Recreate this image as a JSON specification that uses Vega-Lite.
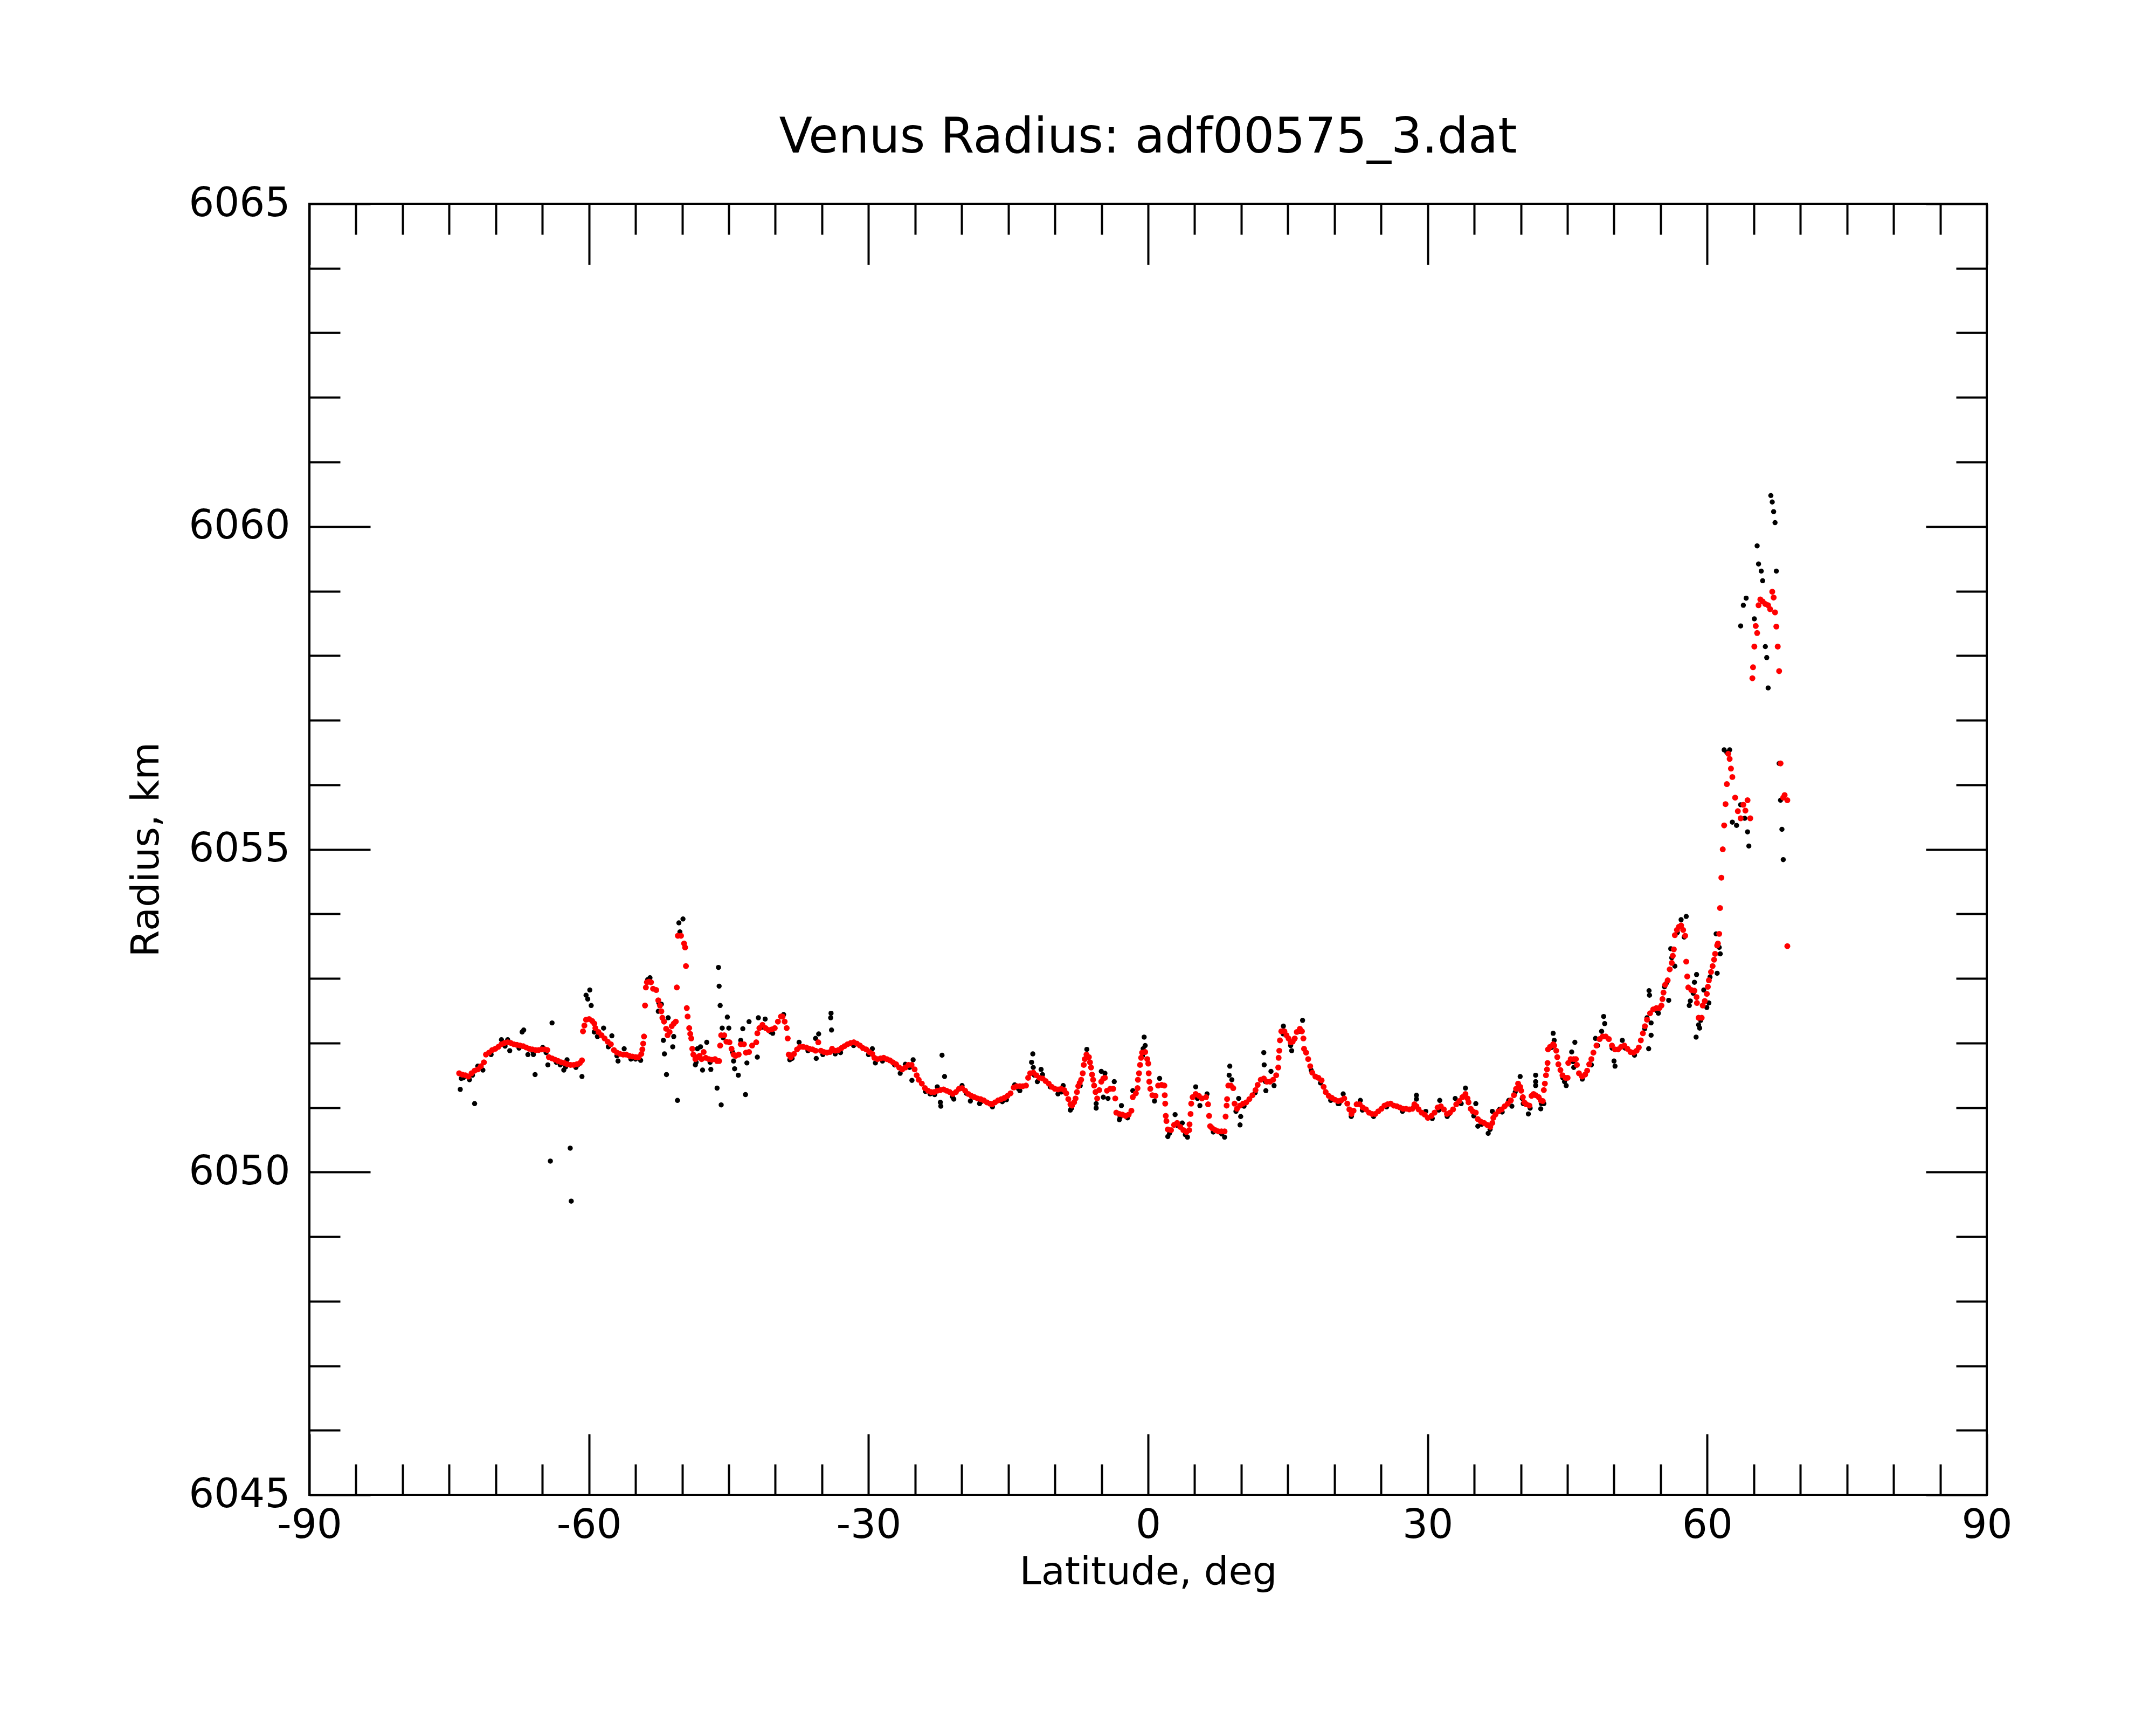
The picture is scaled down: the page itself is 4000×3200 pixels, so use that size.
{
  "$schema": "https://vega.github.io/schema/vega-lite/v6.json",
  "width": 3112,
  "height": 2395,
  "autosize": {"type": "none"},
  "padding": {"left": 574, "top": 378, "right": 314, "bottom": 427},
  "background": "white",
  "title": {
    "text": "Venus Radius: adf00575_3.dat",
    "font": "DejaVu Sans",
    "fontSize": 90,
    "fontWeight": "normal",
    "color": "black",
    "anchor": "middle",
    "frame": "group",
    "baseline": "alphabetic",
    "offset": -32
  },
  "config": {
    "font": "DejaVu Sans",
    "view": {"stroke": "black", "strokeWidth": 4},
    "axis": {
      "domain": false,
      "grid": false,
      "tickColor": "black",
      "tickWidth": 4,
      "labelColor": "black",
      "labelFont": "DejaVu Sans",
      "labelFontSize": 74,
      "labelLimit": 0,
      "titleFont": "DejaVu Sans",
      "titleFontSize": 72,
      "titleFontWeight": "normal",
      "titleColor": "black",
      "labelOverlap": false,
      "labelFlush": false,
      "labelBound": false
    }
  },
  "datasets": {
    "raw": [
      {"lat":-73.81,"r":6051.28},{"lat":-72.27,"r":6051.06},{"lat":-72.82,"r":6051.43},{"lat":-73.48,"r":6051.46},
      {"lat":-71.93,"r":6051.64},{"lat":-71.38,"r":6051.58},{"lat":-69.39,"r":6052.05},{"lat":-68.72,"r":6052.05},
      {"lat":-68.50,"r":6051.88},{"lat":-67.00,"r":6052.20},{"lat":-67.17,"r":6052.17},{"lat":-66.55,"r":6051.82},
      {"lat":-65.96,"r":6051.82},{"lat":-65.78,"r":6051.51},{"lat":-64.96,"r":6051.93},{"lat":-64.41,"r":6051.66},
      {"lat":-63.96,"r":6052.31},{"lat":-64.14,"r":6050.17},{"lat":-62.01,"r":6050.37},{"lat":-61.90,"r":6049.55},
      {"lat":-63.08,"r":6051.66},{"lat":-62.70,"r":6051.58},{"lat":-60.75,"r":6051.48},{"lat":-62.35,"r":6051.74},
      {"lat":-61.60,"r":6051.66},{"lat":-61.20,"r":6051.66},{"lat":-60.31,"r":6052.74},{"lat":-60.13,"r":6052.68},
      {"lat":-59.91,"r":6052.82},{"lat":-59.76,"r":6052.58},{"lat":-59.43,"r":6052.17},{"lat":-59.09,"r":6052.10},
      {"lat":-58.43,"r":6052.23},{"lat":-57.92,"r":6051.94},{"lat":-57.54,"r":6052.11},{"lat":-56.88,"r":6051.72},
      {"lat":-56.22,"r":6051.91},{"lat":-55.00,"r":6051.75},{"lat":-54.45,"r":6051.73},{"lat":-53.45,"r":6053.01},
      {"lat":-52.56,"r":6052.49},{"lat":-52.23,"r":6052.60},{"lat":-52.01,"r":6052.04},{"lat":-51.90,"r":6051.83},
      {"lat":-51.68,"r":6051.51},{"lat":-51.50,"r":6052.39},{"lat":-51.01,"r":6051.94},{"lat":-50.90,"r":6052.10},
      {"lat":-50.50,"r":6051.11},{"lat":-50.35,"r":6053.86},{"lat":-49.91,"r":6053.92},{"lat":-50.24,"r":6053.72},
      {"lat":-48.58,"r":6051.66},{"lat":-48.36,"r":6051.91},{"lat":-48.03,"r":6051.94},{"lat":-47.81,"r":6051.58},
      {"lat":-47.36,"r":6052.01},{"lat":-46.92,"r":6051.59},{"lat":-46.25,"r":6051.30},{"lat":-46.10,"r":6053.17},
      {"lat":-46.03,"r":6052.88},{"lat":-45.92,"r":6052.58},{"lat":-45.81,"r":6051.04},{"lat":-45.70,"r":6052.23},
      {"lat":-45.15,"r":6052.40},{"lat":-44.99,"r":6052.23},{"lat":-44.37,"r":6051.60},{"lat":-43.97,"r":6051.50},
      {"lat":-43.71,"r":6052.04},{"lat":-43.49,"r":6052.22},{"lat":-43.20,"r":6051.20},{"lat":-43.05,"r":6051.69},
      {"lat":-42.82,"r":6052.33},{"lat":-41.93,"r":6051.78},{"lat":-41.82,"r":6052.39},{"lat":-41.09,"r":6052.37},
      {"lat":-40.28,"r":6052.15},{"lat":-44.48,"r":6051.72},
      {"lat":-39.11,"r":6052.44},{"lat":-38.45,"r":6051.74},{"lat":-37.45,"r":6052.01},{"lat":-35.61,"r":6051.76},
      {"lat":-35.35,"r":6052.14},{"lat":-35.68,"r":6052.07},{"lat":-34.02,"r":6052.46},{"lat":-34.06,"r":6052.39},
      {"lat":-33.97,"r":6052.20},{"lat":-33.57,"r":6051.83},{"lat":-29.59,"r":6051.91},{"lat":-29.26,"r":6051.69},
      {"lat":-26.60,"r":6051.53},{"lat":-26.05,"r":6051.67},{"lat":-25.21,"r":6051.74},{"lat":-25.34,"r":6051.42},
      {"lat":-23.39,"r":6051.21},{"lat":-22.62,"r":6051.32},{"lat":-22.29,"r":6051.08},{"lat":-22.24,"r":6051.02},
      {"lat":-22.11,"r":6051.81},{"lat":-21.84,"r":6051.48},{"lat":-20.85,"r":6051.13},{"lat":-19.96,"r":6051.34},
      {"lat":-19.07,"r":6051.10},{"lat":-18.08,"r":6051.06},{"lat":-15.64,"r":6051.09},{"lat":-14.31,"r":6051.35},
      {"lat":-13.76,"r":6051.26},{"lat":-12.37,"r":6051.83},{"lat":-12.50,"r":6051.70},{"lat":-12.32,"r":6051.62},
      {"lat":-11.48,"r":6051.59},{"lat":-11.33,"r":6051.51},{"lat":-11.88,"r":6051.40},{"lat":-9.67,"r":6051.21},
      {"lat":-9.11,"r":6051.34},{"lat":-8.34,"r":6050.96},{"lat":-7.28,"r":6051.34},{"lat":-6.57,"r":6051.90},
      {"lat":-5.57,"r":6050.99},{"lat":-5.57,"r":6051.06},{"lat":-5.02,"r":6051.56},{"lat":-4.80,"r":6051.16},
      {"lat":-4.63,"r":6051.53},{"lat":-3.63,"r":6051.40},{"lat":-4.30,"r":6051.14},{"lat":-3.08,"r":6050.81},
      {"lat":-2.86,"r":6051.03},{"lat":-1.64,"r":6051.26},{"lat":-0.42,"r":6052.09},{"lat":-0.31,"r":6051.96},
      {"lat":-0.53,"r":6051.91},{"lat":0.69,"r":6051.10},{"lat":1.24,"r":6051.45},{"lat":2.12,"r":6050.55},
      {"lat":2.90,"r":6050.89},{"lat":3.67,"r":6050.76},{"lat":4.23,"r":6050.54},{"lat":5.11,"r":6051.32},
      {"lat":6.33,"r":6051.21},{"lat":5.56,"r":6051.03},{"lat":8.21,"r":6050.54},{"lat":8.77,"r":6051.64},
      {"lat":8.70,"r":6051.50},{"lat":8.99,"r":6051.43},{"lat":9.72,"r":6051.14},{"lat":9.94,"r":6050.86},
      {"lat":9.87,"r":6050.73},{"lat":9.43,"r":6050.94},{"lat":12.42,"r":6051.85},{"lat":12.46,"r":6051.66},
      {"lat":12.64,"r":6051.26},{"lat":13.19,"r":6051.56},{"lat":13.52,"r":6051.34},{"lat":14.52,"r":6052.26},
      {"lat":15.41,"r":6051.88},{"lat":16.58,"r":6052.35},{"lat":20.94,"r":6051.21},{"lat":21.83,"r":6050.87},
      {"lat":22.78,"r":6051.11},{"lat":20.39,"r":6051.06},{"lat":28.80,"r":6051.19},{"lat":28.80,"r":6051.13},
      {"lat":29.80,"r":6050.94},
      {"lat":31.30,"r":6051.11},{"lat":32.29,"r":6050.90},{"lat":32.96,"r":6051.14},{"lat":33.40,"r":6051.08},
      {"lat":34.06,"r":6051.30},{"lat":34.95,"r":6050.87},{"lat":35.17,"r":6051.06},{"lat":35.39,"r":6050.71},
      {"lat":36.50,"r":6050.60},{"lat":36.94,"r":6050.94},{"lat":37.71,"r":6050.97},{"lat":38.71,"r":6051.11},
      {"lat":39.04,"r":6051.02},{"lat":39.93,"r":6051.48},{"lat":40.15,"r":6051.14},{"lat":40.26,"r":6051.06},
      {"lat":40.81,"r":6050.90},{"lat":41.59,"r":6051.50},{"lat":41.59,"r":6051.40},{"lat":41.59,"r":6051.34},
      {"lat":42.14,"r":6050.98},{"lat":42.47,"r":6051.06},{"lat":43.47,"r":6052.15},{"lat":43.58,"r":6052.04},
      {"lat":44.69,"r":6051.40},{"lat":44.87,"r":6051.34},{"lat":45.46,"r":6051.86},{"lat":45.68,"r":6051.62},
      {"lat":45.80,"r":6052.01},{"lat":47.57,"r":6051.66},{"lat":48.01,"r":6052.07},{"lat":48.23,"r":6051.96},
      {"lat":48.67,"r":6052.18},{"lat":48.89,"r":6052.41},{"lat":49.00,"r":6052.30},{"lat":50.00,"r":6051.72},
      {"lat":50.11,"r":6051.64},{"lat":50.89,"r":6052.04},{"lat":53.54,"r":6052.39},{"lat":53.76,"r":6052.81},
      {"lat":53.81,"r":6052.74},{"lat":53.72,"r":6051.91},{"lat":53.98,"r":6052.12},{"lat":53.98,"r":6052.31},
      {"lat":54.76,"r":6052.46},{"lat":55.42,"r":6052.87},{"lat":55.87,"r":6052.66},{"lat":56.09,"r":6053.46},
      {"lat":56.20,"r":6053.32},{"lat":56.53,"r":6053.19},{"lat":57.20,"r":6053.91},{"lat":57.53,"r":6053.64},
      {"lat":57.75,"r":6053.96},{"lat":58.19,"r":6052.65},{"lat":58.08,"r":6052.58},{"lat":58.63,"r":6052.94},
      {"lat":58.86,"r":6053.06},{"lat":59.08,"r":6052.28},{"lat":59.19,"r":6052.23},{"lat":58.81,"r":6052.09},
      {"lat":59.63,"r":6052.82},{"lat":59.96,"r":6052.55},{"lat":60.18,"r":6052.62},{"lat":60.96,"r":6053.69},
      {"lat":61.07,"r":6053.08},{"lat":61.29,"r":6053.48},{"lat":61.40,"r":6053.38},
      {"lat":61.82,"r":6056.54},{"lat":62.11,"r":6056.50},{"lat":62.41,"r":6056.54},{"lat":62.70,"r":6055.42},
      {"lat":63.15,"r":6055.37},{"lat":63.29,"r":6055.59},{"lat":63.59,"r":6055.69},{"lat":64.03,"r":6055.48},
      {"lat":64.33,"r":6055.27},{"lat":64.47,"r":6055.05},{"lat":63.59,"r":6058.46},{"lat":63.88,"r":6058.78},
      {"lat":64.18,"r":6058.89},{"lat":65.06,"r":6058.57},{"lat":65.36,"r":6059.70},{"lat":65.51,"r":6059.42},
      {"lat":65.80,"r":6059.31},{"lat":65.95,"r":6059.16},{"lat":66.24,"r":6058.14},{"lat":66.39,"r":6057.97},
      {"lat":66.54,"r":6057.50},{"lat":66.83,"r":6060.48},{"lat":66.98,"r":6060.38},{"lat":67.13,"r":6060.23},
      {"lat":67.28,"r":6060.06},{"lat":67.42,"r":6059.31},{"lat":67.72,"r":6056.33},{"lat":68.02,"r":6055.31},
      {"lat":68.16,"r":6054.84},{"lat":67.87,"r":6055.76},
      {"lat":-73.7,"r":6051.45},{"lat":-72.5,"r":6051.50},{"lat":-70.5,"r":6051.82},{"lat":-69.0,"r":6051.95},
      {"lat":-67.5,"r":6051.92},{"lat":-66.0,"r":6051.86},{"lat":-64.6,"r":6051.85},{"lat":-63.5,"r":6051.70},
      {"lat":-62.5,"r":6051.63},{"lat":-61.4,"r":6051.62},{"lat":-58.8,"r":6052.12},{"lat":-57.0,"r":6051.80},
      {"lat":-55.5,"r":6051.75},{"lat":-53.7,"r":6052.98},{"lat":-52.5,"r":6052.62},{"lat":-48.5,"r":6051.70},
      {"lat":-47.0,"r":6051.70},{"lat":-45.6,"r":6052.08},{"lat":-44.6,"r":6051.86},{"lat":-41.5,"r":6052.24},
      {"lat":-40.5,"r":6052.17},{"lat":-38.2,"r":6051.76},{"lat":-36.5,"r":6051.88},{"lat":-34.9,"r":6051.82},
      {"lat":-33.0,"r":6051.85},{"lat":-31.6,"r":6051.96},{"lat":-30.0,"r":6051.82},{"lat":-28.5,"r":6051.72},
      {"lat":-27.2,"r":6051.66},{"lat":-25.6,"r":6051.62},{"lat":-23.9,"r":6051.25},{"lat":-22.9,"r":6051.20},
      {"lat":-21.0,"r":6051.17},{"lat":-19.5,"r":6051.22},{"lat":-17.9,"r":6051.09},{"lat":-16.7,"r":6051.01},
      {"lat":-15.2,"r":6051.12},{"lat":-13.9,"r":6051.29},{"lat":-12.2,"r":6051.50},{"lat":-10.5,"r":6051.32},
      {"lat":-9.3,"r":6051.24},{"lat":-8.2,"r":6050.99},{"lat":-6.6,"r":6051.78},{"lat":-3.0,"r":6050.85},
      {"lat":-2.2,"r":6050.84},{"lat":-0.6,"r":6051.80},{"lat":2.3,"r":6050.60},{"lat":3.2,"r":6050.72},
      {"lat":4.0,"r":6050.58},{"lat":5.3,"r":6051.14},{"lat":7.0,"r":6050.62},{"lat":7.9,"r":6050.59},
      {"lat":10.3,"r":6051.02},{"lat":11.5,"r":6051.23},{"lat":12.6,"r":6051.40},{"lat":14.5,"r":6052.14},
      {"lat":15.3,"r":6051.96},{"lat":16.3,"r":6052.18},{"lat":17.5,"r":6051.58},{"lat":18.5,"r":6051.38},
      {"lat":19.6,"r":6051.11},{"lat":20.5,"r":6051.06},{"lat":21.8,"r":6050.86},{"lat":23.0,"r":6050.96},
      {"lat":24.2,"r":6050.86},{"lat":25.6,"r":6051.01},{"lat":27.3,"r":6050.94},{"lat":28.5,"r":6051.01},
      {"lat":30.5,"r":6050.83},{"lat":31.2,"r":6050.96},{"lat":32.1,"r":6050.86},{"lat":33.6,"r":6051.06},
      {"lat":35.8,"r":6050.74},{"lat":36.7,"r":6050.66},{"lat":38.0,"r":6050.93},{"lat":39.4,"r":6051.24},
      {"lat":41.0,"r":6050.99},{"lat":42.2,"r":6051.06},{"lat":43.3,"r":6051.93},{"lat":44.5,"r":6051.46},
      {"lat":45.6,"r":6051.71},{"lat":46.6,"r":6051.44},{"lat":48.5,"r":6052.06},{"lat":49.8,"r":6051.92},
      {"lat":51.2,"r":6051.92},{"lat":52.2,"r":6051.81},{"lat":53.3,"r":6052.22},{"lat":54.6,"r":6052.50},
      {"lat":55.6,"r":6052.92},{"lat":56.8,"r":6053.71},{"lat":58.5,"r":6052.77},{"lat":59.3,"r":6052.35},
      {"lat":60.3,"r":6053.02}
    ],
    "smooth": [
      {"lat":-73.93,"r":6051.53},{"lat":-73.59,"r":6051.51},{"lat":-73.26,"r":6051.50},{"lat":-72.93,"r":6051.48},
      {"lat":-72.60,"r":6051.53},{"lat":-72.27,"r":6051.57},{"lat":-71.93,"r":6051.59},{"lat":-71.60,"r":6051.64},
      {"lat":-71.27,"r":6051.70},{"lat":-71.05,"r":6051.82},{"lat":-70.72,"r":6051.85},{"lat":-70.38,"r":6051.89},
      {"lat":-70.05,"r":6051.91},{"lat":-69.72,"r":6051.94},{"lat":-69.39,"r":6051.98},{"lat":-69.06,"r":6052.00},
      {"lat":-68.72,"r":6052.01},{"lat":-68.39,"r":6052.00},{"lat":-68.06,"r":6051.98},{"lat":-67.73,"r":6051.97},
      {"lat":-67.39,"r":6051.96},{"lat":-67.06,"r":6051.95},{"lat":-66.73,"r":6051.93},{"lat":-66.40,"r":6051.91},
      {"lat":-66.07,"r":6051.90},{"lat":-65.73,"r":6051.89},{"lat":-65.40,"r":6051.89},{"lat":-65.07,"r":6051.90},
      {"lat":-64.74,"r":6051.90},{"lat":-64.47,"r":6051.89},{"lat":-64.30,"r":6051.78},{"lat":-63.96,"r":6051.76},
      {"lat":-63.63,"r":6051.74},{"lat":-63.30,"r":6051.72},{"lat":-62.97,"r":6051.70},{"lat":-62.64,"r":6051.69},
      {"lat":-62.30,"r":6051.67},{"lat":-61.97,"r":6051.66},{"lat":-61.64,"r":6051.66},{"lat":-61.31,"r":6051.67},
      {"lat":-60.97,"r":6051.69},{"lat":-60.75,"r":6051.73},{"lat":-60.64,"r":6052.18},{"lat":-60.49,"r":6052.27},
      {"lat":-60.31,"r":6052.36},{"lat":-59.98,"r":6052.37},{"lat":-59.65,"r":6052.34},{"lat":-59.42,"r":6052.30},
      {"lat":-59.31,"r":6052.23},{"lat":-58.98,"r":6052.17},{"lat":-58.65,"r":6052.12},{"lat":-58.32,"r":6052.07},
      {"lat":-57.99,"r":6052.02},{"lat":-57.65,"r":6051.98},{"lat":-57.32,"r":6051.89},{"lat":-56.99,"r":6051.85},
      {"lat":-56.66,"r":6051.83},{"lat":-56.32,"r":6051.82},{"lat":-55.99,"r":6051.82},{"lat":-55.66,"r":6051.80},
      {"lat":-55.33,"r":6051.79},{"lat":-54.99,"r":6051.78},{"lat":-54.66,"r":6051.78},{"lat":-54.38,"r":6051.83},
      {"lat":-54.27,"r":6051.90},{"lat":-54.18,"r":6051.99},{"lat":-54.09,"r":6052.10},{"lat":-53.98,"r":6052.58},
      {"lat":-53.89,"r":6052.86},{"lat":-53.78,"r":6052.94},{"lat":-53.56,"r":6052.95},{"lat":-53.34,"r":6052.94},
      {"lat":-53.12,"r":6052.84},{"lat":-52.78,"r":6052.82},{"lat":-52.56,"r":6052.66},{"lat":-52.38,"r":6052.58},
      {"lat":-52.23,"r":6052.49},{"lat":-52.12,"r":6052.39},{"lat":-51.94,"r":6052.33},{"lat":-51.72,"r":6052.22},
      {"lat":-51.56,"r":6052.12},{"lat":-51.34,"r":6052.17},{"lat":-51.12,"r":6052.26},{"lat":-50.90,"r":6052.30},
      {"lat":-50.68,"r":6052.33},{"lat":-50.57,"r":6052.86},{"lat":-50.46,"r":6053.66},{"lat":-50.12,"r":6053.66},
      {"lat":-49.79,"r":6053.54},{"lat":-49.68,"r":6053.48},{"lat":-49.59,"r":6053.19},{"lat":-49.50,"r":6052.54},
      {"lat":-49.41,"r":6052.41},{"lat":-49.24,"r":6052.23},{"lat":-49.13,"r":6052.14},{"lat":-49.02,"r":6052.07},
      {"lat":-48.91,"r":6051.91},{"lat":-48.80,"r":6051.82},{"lat":-48.58,"r":6051.75},{"lat":-48.35,"r":6051.78},
      {"lat":-48.13,"r":6051.80},{"lat":-47.91,"r":6051.75},{"lat":-47.69,"r":6051.86},{"lat":-47.47,"r":6051.77},
      {"lat":-47.14,"r":6051.75},{"lat":-46.81,"r":6051.74},{"lat":-46.47,"r":6051.75},{"lat":-46.25,"r":6051.72},
      {"lat":-46.03,"r":6051.72},{"lat":-45.92,"r":6051.96},{"lat":-45.81,"r":6052.12},{"lat":-45.48,"r":6052.12},
      {"lat":-45.25,"r":6052.02},{"lat":-44.92,"r":6052.01},{"lat":-44.70,"r":6051.91},{"lat":-44.48,"r":6051.82},
      {"lat":-44.26,"r":6051.80},{"lat":-43.93,"r":6051.82},{"lat":-43.71,"r":6051.98},{"lat":-43.37,"r":6051.98},
      {"lat":-43.15,"r":6051.85},{"lat":-42.82,"r":6051.86},{"lat":-42.49,"r":6051.96},{"lat":-42.05,"r":6052.01},
      {"lat":-41.93,"r":6052.15},{"lat":-41.71,"r":6052.23},{"lat":-41.38,"r":6052.28},{"lat":-41.05,"r":6052.23},
      {"lat":-40.72,"r":6052.20},{"lat":-40.39,"r":6052.21},{"lat":-40.06,"r":6052.23},{"lat":-39.72,"r":6052.33},
      {"lat":-39.39,"r":6052.41},
      {"lat":-39.22,"r":6052.41},{"lat":-39.00,"r":6052.33},{"lat":-38.78,"r":6052.23},{"lat":-38.67,"r":6052.07},
      {"lat":-38.56,"r":6051.82},{"lat":-38.34,"r":6051.78},{"lat":-38.00,"r":6051.83},{"lat":-37.67,"r":6051.90},
      {"lat":-37.34,"r":6051.94},{"lat":-37.01,"r":6051.94},{"lat":-36.67,"r":6051.93},{"lat":-36.34,"r":6051.91},
      {"lat":-36.01,"r":6051.90},{"lat":-35.68,"r":6051.88},{"lat":-35.39,"r":6052.01},{"lat":-35.12,"r":6051.88},
      {"lat":-34.79,"r":6051.86},{"lat":-34.46,"r":6051.85},{"lat":-34.13,"r":6051.86},{"lat":-33.91,"r":6051.91},
      {"lat":-33.57,"r":6051.88},{"lat":-33.24,"r":6051.89},{"lat":-32.91,"r":6051.92},{"lat":-32.58,"r":6051.95},
      {"lat":-32.25,"r":6051.98},{"lat":-31.91,"r":6052.00},{"lat":-31.58,"r":6052.01},{"lat":-31.25,"r":6051.99},
      {"lat":-30.92,"r":6051.96},{"lat":-30.59,"r":6051.92},{"lat":-30.25,"r":6051.90},{"lat":-29.92,"r":6051.86},
      {"lat":-29.59,"r":6051.83},{"lat":-29.37,"r":6051.77},{"lat":-29.04,"r":6051.75},{"lat":-28.71,"r":6051.76},
      {"lat":-28.37,"r":6051.77},{"lat":-28.04,"r":6051.75},{"lat":-27.71,"r":6051.73},{"lat":-27.38,"r":6051.70},
      {"lat":-27.04,"r":6051.67},{"lat":-26.71,"r":6051.62},{"lat":-26.38,"r":6051.59},{"lat":-26.05,"r":6051.62},
      {"lat":-25.71,"r":6051.66},{"lat":-25.38,"r":6051.66},{"lat":-25.05,"r":6051.59},{"lat":-24.83,"r":6051.50},
      {"lat":-24.61,"r":6051.43},{"lat":-24.28,"r":6051.37},{"lat":-23.94,"r":6051.30},{"lat":-23.61,"r":6051.26},
      {"lat":-23.28,"r":6051.24},{"lat":-22.95,"r":6051.24},{"lat":-22.62,"r":6051.26},{"lat":-22.28,"r":6051.27},
      {"lat":-21.95,"r":6051.28},{"lat":-21.62,"r":6051.26},{"lat":-21.29,"r":6051.24},{"lat":-20.96,"r":6051.21},
      {"lat":-20.62,"r":6051.24},{"lat":-20.29,"r":6051.29},{"lat":-19.96,"r":6051.30},{"lat":-19.63,"r":6051.26},
      {"lat":-19.29,"r":6051.21},{"lat":-18.96,"r":6051.18},{"lat":-18.63,"r":6051.16},{"lat":-18.30,"r":6051.14},
      {"lat":-17.97,"r":6051.13},{"lat":-17.63,"r":6051.11},{"lat":-17.30,"r":6051.08},{"lat":-16.97,"r":6051.06},
      {"lat":-16.75,"r":6051.05},{"lat":-16.42,"r":6051.08},{"lat":-16.09,"r":6051.11},{"lat":-15.75,"r":6051.13},
      {"lat":-15.42,"r":6051.15},{"lat":-15.09,"r":6051.18},{"lat":-14.76,"r":6051.22},{"lat":-14.42,"r":6051.31},
      {"lat":-14.09,"r":6051.33},{"lat":-13.76,"r":6051.33},{"lat":-13.43,"r":6051.33},{"lat":-13.10,"r":6051.34},
      {"lat":-12.87,"r":6051.46},{"lat":-12.65,"r":6051.53},{"lat":-12.32,"r":6051.54},{"lat":-11.99,"r":6051.50},
      {"lat":-11.66,"r":6051.46},{"lat":-11.32,"r":6051.45},{"lat":-10.99,"r":6051.41},{"lat":-10.66,"r":6051.37},
      {"lat":-10.33,"r":6051.32},{"lat":-10.00,"r":6051.29},{"lat":-9.66,"r":6051.28},{"lat":-9.33,"r":6051.29},
      {"lat":-9.00,"r":6051.27},{"lat":-8.78,"r":6051.22},{"lat":-8.56,"r":6051.13},{"lat":-8.33,"r":6051.05},
      {"lat":-8.16,"r":6051.03},{"lat":-7.94,"r":6051.08},{"lat":-7.78,"r":6051.14},{"lat":-7.63,"r":6051.24},
      {"lat":-7.49,"r":6051.33},{"lat":-7.34,"r":6051.38},{"lat":-7.18,"r":6051.43},{"lat":-7.01,"r":6051.53},
      {"lat":-6.90,"r":6051.66},{"lat":-6.79,"r":6051.75},{"lat":-6.61,"r":6051.82},{"lat":-6.35,"r":6051.78},
      {"lat":-6.23,"r":6051.70},{"lat":-6.12,"r":6051.62},{"lat":-6.01,"r":6051.51},{"lat":-5.90,"r":6051.43},
      {"lat":-5.79,"r":6051.34},{"lat":-5.64,"r":6051.24},{"lat":-5.46,"r":6051.14},{"lat":-5.24,"r":6051.27},
      {"lat":-5.02,"r":6051.40},{"lat":-4.80,"r":6051.45},
      {"lat":-4.63,"r":6051.46},{"lat":-4.41,"r":6051.26},{"lat":-4.07,"r":6051.29},{"lat":-3.74,"r":6051.29},
      {"lat":-3.52,"r":6051.14},{"lat":-3.41,"r":6050.92},{"lat":-3.08,"r":6050.90},{"lat":-2.75,"r":6050.89},
      {"lat":-2.41,"r":6050.87},{"lat":-2.08,"r":6050.89},{"lat":-1.79,"r":6050.95},{"lat":-1.64,"r":6051.16},
      {"lat":-1.31,"r":6051.22},{"lat":-1.13,"r":6051.30},{"lat":-1.09,"r":6051.43},{"lat":-0.97,"r":6051.53},
      {"lat":-0.86,"r":6051.66},{"lat":-0.75,"r":6051.77},{"lat":-0.64,"r":6051.85},{"lat":-0.31,"r":6051.86},
      {"lat":-0.09,"r":6051.75},{"lat":0.02,"r":6051.68},{"lat":0.07,"r":6051.53},{"lat":0.13,"r":6051.40},
      {"lat":0.24,"r":6051.29},{"lat":0.46,"r":6051.19},{"lat":0.80,"r":6051.18},{"lat":1.08,"r":6051.34},
      {"lat":1.46,"r":6051.35},{"lat":1.75,"r":6051.34},{"lat":1.79,"r":6051.19},{"lat":1.84,"r":6051.06},
      {"lat":1.90,"r":6050.87},{"lat":1.97,"r":6050.79},{"lat":2.12,"r":6050.66},{"lat":2.46,"r":6050.65},
      {"lat":2.79,"r":6050.73},{"lat":3.12,"r":6050.76},{"lat":3.45,"r":6050.70},{"lat":3.79,"r":6050.65},
      {"lat":4.12,"r":6050.62},{"lat":4.41,"r":6050.65},{"lat":4.45,"r":6050.74},{"lat":4.56,"r":6050.90},
      {"lat":4.63,"r":6051.06},{"lat":4.78,"r":6051.16},{"lat":5.11,"r":6051.21},{"lat":5.45,"r":6051.18},
      {"lat":5.78,"r":6051.14},{"lat":6.22,"r":6051.16},{"lat":6.44,"r":6051.05},{"lat":6.55,"r":6050.87},
      {"lat":6.66,"r":6050.71},{"lat":6.88,"r":6050.68},{"lat":7.22,"r":6050.65},{"lat":7.55,"r":6050.63},
      {"lat":7.88,"r":6050.63},{"lat":8.21,"r":6050.63},{"lat":8.32,"r":6050.86},{"lat":8.43,"r":6051.03},
      {"lat":8.48,"r":6051.13},{"lat":8.61,"r":6051.34},{"lat":8.88,"r":6051.34},{"lat":9.14,"r":6051.30},
      {"lat":9.28,"r":6051.06},{"lat":9.54,"r":6050.98},{"lat":9.87,"r":6051.03},{"lat":10.20,"r":6051.06},
      {"lat":10.54,"r":6051.08},{"lat":10.87,"r":6051.13},{"lat":11.20,"r":6051.19},{"lat":11.53,"r":6051.27},
      {"lat":11.76,"r":6051.35},{"lat":12.09,"r":6051.43},{"lat":12.42,"r":6051.45},{"lat":12.75,"r":6051.40},
      {"lat":13.08,"r":6051.40},{"lat":13.42,"r":6051.43},{"lat":13.75,"r":6051.50},{"lat":13.97,"r":6051.62},
      {"lat":14.01,"r":6051.77},{"lat":14.08,"r":6051.88},{"lat":14.15,"r":6052.04},{"lat":14.30,"r":6052.18},
      {"lat":14.63,"r":6052.18},{"lat":14.85,"r":6052.12},{"lat":15.07,"r":6052.07},{"lat":15.30,"r":6052.01},
      {"lat":15.52,"r":6052.02},{"lat":15.74,"r":6052.07},{"lat":15.96,"r":6052.17},{"lat":16.29,"r":6052.22},
      {"lat":16.51,"r":6052.18},{"lat":16.67,"r":6052.07},{"lat":16.74,"r":6051.91},{"lat":16.96,"r":6051.85},
      {"lat":17.18,"r":6051.75},{"lat":17.40,"r":6051.64},{"lat":17.62,"r":6051.54},{"lat":17.95,"r":6051.48},
      {"lat":18.28,"r":6051.46},{"lat":18.62,"r":6051.42},{"lat":18.84,"r":6051.32},{"lat":19.06,"r":6051.24},
      {"lat":19.39,"r":6051.18},{"lat":19.72,"r":6051.15},{"lat":20.06,"r":6051.12},{"lat":20.39,"r":6051.10},
      {"lat":20.72,"r":6051.11},{"lat":21.05,"r":6051.14},{"lat":21.38,"r":6051.06},{"lat":21.60,"r":6050.97},
      {"lat":21.83,"r":6050.90},{"lat":22.05,"r":6050.95},{"lat":22.38,"r":6051.05},{"lat":22.71,"r":6051.05},
      {"lat":23.04,"r":6051.00},{"lat":23.38,"r":6050.97},{"lat":23.71,"r":6050.92},{"lat":24.04,"r":6050.90},
      {"lat":24.37,"r":6050.90},{"lat":24.70,"r":6050.94},{"lat":25.04,"r":6050.98},{"lat":25.37,"r":6051.03},
      {"lat":25.70,"r":6051.05},{"lat":26.03,"r":6051.06},{"lat":26.37,"r":6051.03},{"lat":26.70,"r":6051.02},
      {"lat":27.03,"r":6051.00},{"lat":27.36,"r":6050.98},{"lat":27.69,"r":6050.98},{"lat":28.03,"r":6050.97},
      {"lat":28.36,"r":6050.98},{"lat":28.58,"r":6051.05},{"lat":28.80,"r":6051.02},{"lat":29.03,"r":6050.97},
      {"lat":29.36,"r":6050.92},{"lat":29.69,"r":6050.89},{"lat":30.02,"r":6050.84},
      {"lat":30.41,"r":6050.87},{"lat":30.74,"r":6050.92},{"lat":31.07,"r":6051.00},{"lat":31.41,"r":6051.02},
      {"lat":31.74,"r":6050.97},{"lat":32.07,"r":6050.90},{"lat":32.40,"r":6050.92},{"lat":32.73,"r":6050.97},
      {"lat":33.07,"r":6051.05},{"lat":33.40,"r":6051.10},{"lat":33.73,"r":6051.16},{"lat":34.06,"r":6051.21},
      {"lat":34.28,"r":6051.14},{"lat":34.39,"r":6051.08},{"lat":34.62,"r":6050.98},{"lat":34.84,"r":6050.94},
      {"lat":35.17,"r":6050.92},{"lat":35.39,"r":6050.82},{"lat":35.72,"r":6050.78},{"lat":36.06,"r":6050.76},
      {"lat":36.39,"r":6050.73},{"lat":36.72,"r":6050.70},{"lat":36.94,"r":6050.76},{"lat":37.05,"r":6050.84},
      {"lat":37.27,"r":6050.89},{"lat":37.60,"r":6050.94},{"lat":37.94,"r":6050.97},{"lat":38.27,"r":6051.02},
      {"lat":38.60,"r":6051.06},{"lat":38.93,"r":6051.11},{"lat":39.26,"r":6051.19},{"lat":39.49,"r":6051.29},
      {"lat":39.71,"r":6051.37},{"lat":39.93,"r":6051.32},{"lat":40.04,"r":6051.26},{"lat":40.22,"r":6051.16},
      {"lat":40.37,"r":6051.08},{"lat":40.59,"r":6051.05},{"lat":40.92,"r":6051.03},{"lat":41.15,"r":6051.18},
      {"lat":41.37,"r":6051.21},{"lat":41.59,"r":6051.19},{"lat":41.92,"r":6051.16},{"lat":42.14,"r":6051.11},
      {"lat":42.36,"r":6051.10},{"lat":42.47,"r":6051.27},{"lat":42.58,"r":6051.37},{"lat":42.70,"r":6051.50},
      {"lat":42.81,"r":6051.59},{"lat":42.87,"r":6051.69},{"lat":42.92,"r":6051.90},{"lat":43.14,"r":6051.94},
      {"lat":43.47,"r":6051.98},{"lat":43.58,"r":6051.96},{"lat":43.80,"r":6051.88},{"lat":43.91,"r":6051.78},
      {"lat":44.03,"r":6051.67},{"lat":44.25,"r":6051.58},{"lat":44.47,"r":6051.50},{"lat":44.80,"r":6051.46},
      {"lat":45.02,"r":6051.46},{"lat":45.09,"r":6051.69},{"lat":45.35,"r":6051.75},{"lat":45.68,"r":6051.75},
      {"lat":45.91,"r":6051.75},{"lat":46.02,"r":6051.66},{"lat":46.24,"r":6051.53},{"lat":46.57,"r":6051.48},
      {"lat":46.90,"r":6051.51},{"lat":47.12,"r":6051.57},{"lat":47.34,"r":6051.67},{"lat":47.57,"r":6051.75},
      {"lat":47.79,"r":6051.85},{"lat":48.12,"r":6051.96},{"lat":48.45,"r":6052.06},{"lat":48.78,"r":6052.10},
      {"lat":49.11,"r":6052.10},{"lat":49.45,"r":6052.06},{"lat":49.78,"r":6051.96},{"lat":50.11,"r":6051.90},
      {"lat":50.44,"r":6051.90},{"lat":50.77,"r":6051.94},{"lat":51.11,"r":6051.96},{"lat":51.44,"r":6051.91},
      {"lat":51.77,"r":6051.86},{"lat":52.10,"r":6051.85},{"lat":52.43,"r":6051.88},{"lat":52.66,"r":6051.93},
      {"lat":52.88,"r":6052.04},{"lat":53.10,"r":6052.15},{"lat":53.32,"r":6052.26},{"lat":53.54,"r":6052.36},
      {"lat":53.87,"r":6052.46},{"lat":54.21,"r":6052.52},{"lat":54.54,"r":6052.54},{"lat":54.87,"r":6052.54},
      {"lat":55.09,"r":6052.58},{"lat":55.20,"r":6052.68},{"lat":55.31,"r":6052.78},{"lat":55.49,"r":6052.90},
      {"lat":55.76,"r":6052.97},{"lat":55.98,"r":6053.14},{"lat":56.20,"r":6053.24},{"lat":56.31,"r":6053.35},
      {"lat":56.42,"r":6053.45},{"lat":56.53,"r":6053.67},{"lat":56.75,"r":6053.75},{"lat":56.97,"r":6053.80},
      {"lat":57.20,"r":6053.82},{"lat":57.42,"r":6053.75},{"lat":57.64,"r":6053.66},{"lat":57.75,"r":6053.26},
      {"lat":57.86,"r":6053.03},{"lat":57.97,"r":6052.86},{"lat":58.30,"r":6052.82},{"lat":58.63,"r":6052.81},
      {"lat":58.86,"r":6052.71},{"lat":58.90,"r":6052.62},{"lat":59.08,"r":6052.39},{"lat":59.41,"r":6052.39},
      {"lat":59.52,"r":6052.58},{"lat":59.74,"r":6052.65},{"lat":59.96,"r":6052.76},{"lat":60.07,"r":6052.87},
      {"lat":60.18,"r":6052.97},{"lat":60.41,"r":6053.10},{"lat":60.58,"r":6053.19},{"lat":60.74,"r":6053.29},
      {"lat":60.85,"r":6053.38},{"lat":61.07,"r":6053.51},{"lat":61.15,"r":6053.54},{"lat":61.29,"r":6053.69},
      {"lat":61.38,"r":6054.09},{"lat":61.52,"r":6054.56},{"lat":61.67,"r":6055.00},{"lat":61.82,"r":6055.37},
      {"lat":61.97,"r":6055.70},{"lat":62.11,"r":6056.01},{"lat":62.26,"r":6056.48},{"lat":62.41,"r":6056.40},
      {"lat":62.55,"r":6056.25},{"lat":62.70,"r":6056.12},{"lat":63.00,"r":6055.80},{"lat":63.29,"r":6055.59},
      {"lat":63.59,"r":6055.48},{"lat":63.88,"r":6055.69},{"lat":64.10,"r":6055.60},{"lat":64.33,"r":6055.76},
      {"lat":64.62,"r":6055.48},{"lat":64.85,"r":6057.65},{"lat":64.92,"r":6057.82},{"lat":65.06,"r":6058.14},
      {"lat":65.21,"r":6058.46},{"lat":65.36,"r":6058.35},{"lat":65.51,"r":6058.78},{"lat":65.70,"r":6058.87},
      {"lat":65.95,"r":6058.84},{"lat":66.24,"r":6058.80},{"lat":66.54,"r":6058.78},{"lat":66.75,"r":6058.72},
      {"lat":66.98,"r":6058.99},{"lat":67.13,"r":6058.90},{"lat":67.28,"r":6058.67},{"lat":67.42,"r":6058.45},
      {"lat":67.57,"r":6058.14},{"lat":67.72,"r":6057.76},{"lat":67.87,"r":6056.33},{"lat":68.16,"r":6055.80},
      {"lat":68.31,"r":6055.84},{"lat":68.60,"r":6055.76},{"lat":68.60,"r":6053.50}
    ]
  },
  "layer": [
    {
      "data": {"name": "raw"},
      "mark": {"type": "circle", "size": 90, "color": "black", "opacity": 1},
      "encoding": {
        "x": {
          "field": "lat",
          "type": "quantitative",
          "scale": {"domain": [-90, 90], "nice": false, "zero": false},
          "axis": {
            "orient": "bottom",
            "values": [-90,-85,-80,-75,-70,-65,-60,-55,-50,-45,-40,-35,-30,-25,-20,-15,-10,-5,0,5,10,15,20,25,30,35,40,45,50,55,60,65,70,75,80,85,90],
            "tickSize": {"condition": {"test": "datum.value % 30 === 0", "value": -113}, "value": -57},
            "labelExpr": "datum.value % 30 === 0 ? '' + datum.value : ''",
            "labelPadding": 134,
            "title": "Latitude, deg",
            "titlePadding": -42
          }
        },
        "y": {
          "field": "r",
          "type": "quantitative",
          "scale": {"domain": [6045, 6065], "nice": false, "zero": false},
          "axis": {
            "orient": "left",
            "values": [6045,6046,6047,6048,6049,6050,6051,6052,6053,6054,6055,6056,6057,6058,6059,6060,6061,6062,6063,6064,6065],
            "tickSize": {"condition": {"test": "datum.value % 5 === 0", "value": -113}, "value": -57},
            "labelExpr": "datum.value % 5 === 0 ? '' + datum.value : ''",
            "labelPadding": 149,
            "title": "Radius, km",
            "titlePadding": 66
          }
        }
      }
    },
    {
      "data": {"name": "smooth"},
      "mark": {"type": "circle", "size": 120, "color": "#ff0000", "opacity": 1},
      "encoding": {
        "x": {
          "field": "lat",
          "type": "quantitative",
          "scale": {"domain": [-90, 90], "nice": false, "zero": false},
          "axis": {
            "orient": "top",
            "values": [-90,-85,-80,-75,-70,-65,-60,-55,-50,-45,-40,-35,-30,-25,-20,-15,-10,-5,0,5,10,15,20,25,30,35,40,45,50,55,60,65,70,75,80,85,90],
            "tickSize": {"condition": {"test": "datum.value % 30 === 0", "value": -113}, "value": -57},
            "labels": false,
            "title": null
          }
        },
        "y": {
          "field": "r",
          "type": "quantitative",
          "scale": {"domain": [6045, 6065], "nice": false, "zero": false},
          "axis": {
            "orient": "right",
            "values": [6045,6046,6047,6048,6049,6050,6051,6052,6053,6054,6055,6056,6057,6058,6059,6060,6061,6062,6063,6064,6065],
            "tickSize": {"condition": {"test": "datum.value % 5 === 0", "value": -113}, "value": -57},
            "labels": false,
            "title": null
          }
        }
      }
    }
  ],
  "resolve": {"axis": {"x": "independent", "y": "independent"}}
}
